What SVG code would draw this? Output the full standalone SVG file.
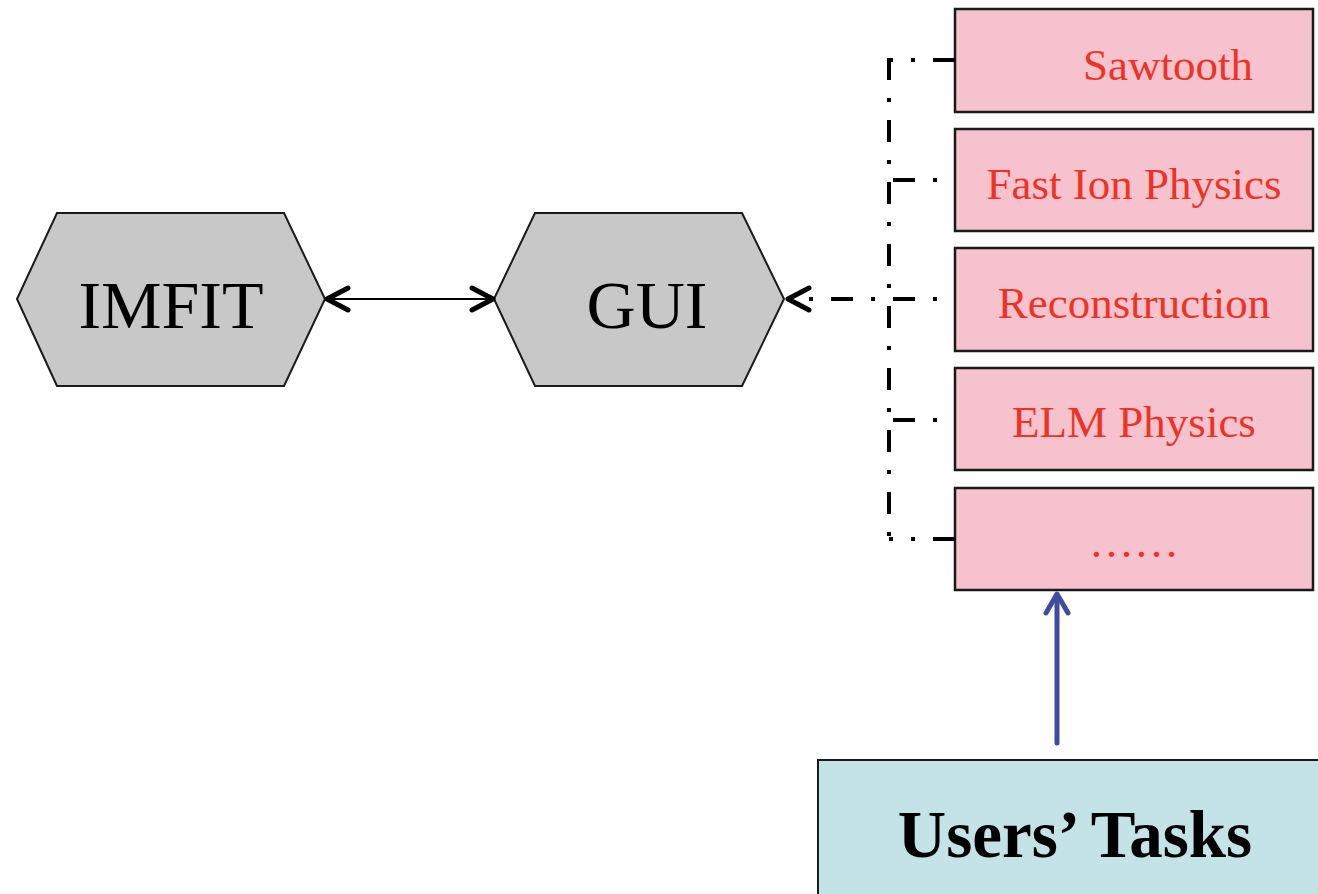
<svg xmlns="http://www.w3.org/2000/svg" width="1318" height="894" viewBox="0 0 1318 894">
  <style>
    .hex { fill: #c8c8c8; stroke: #1a1a1a; stroke-width: 2; }
    .hex-label { font-family: "Liberation Serif", "Times New Roman", serif; font-size: 68px; fill: #000; text-anchor: middle; }
    .module { fill: #f5c2cd; stroke: #1a1a1a; stroke-width: 2.5; }
    .module-label { font-family: "Liberation Serif", "Times New Roman", serif; font-size: 45px; fill: #ee3324; text-anchor: middle; }
    .task { fill: #c4e3e6; stroke: #1a1a1a; stroke-width: 2; }
    .task-label { font-family: "Liberation Serif", "Times New Roman", serif; font-size: 67px; font-weight: bold; fill: #000; text-anchor: middle; }
    .dashdot { fill: none; stroke: #000; stroke-width: 4; stroke-dasharray: 22 18 4 18; }
    .thin { fill: none; stroke: #000; stroke-width: 2; }
    .head { fill: none; stroke: #000; stroke-width: 5; stroke-linecap: round; stroke-linejoin: round; }
    .blue { fill: none; stroke: #3f4ba0; stroke-width: 5; stroke-linecap: round; stroke-linejoin: round; }
  </style>

  <!-- hexagon nodes -->
  <g id="imfit">
    <polygon class="hex" points="17,299 57,213 284,213 325,299 284,386 57,386"/>
    <text class="hex-label" x="171" y="328">IMFIT</text>
  </g>
  <g id="gui">
    <polygon class="hex" points="494,299 535,213 742,213 784,299 742,386 535,386"/>
    <text class="hex-label" x="647" y="328">GUI</text>
  </g>

  <!-- physics modules -->
  <g id="sawtooth">
    <rect class="module" x="955" y="9" width="358" height="103"/>
    <text class="module-label" x="1168" y="80">Sawtooth</text>
  </g>
  <g id="fast-ion">
    <rect class="module" x="955" y="129" width="358" height="102"/>
    <text class="module-label" x="1134" y="199">Fast Ion Physics</text>
  </g>
  <g id="reconstruction">
    <rect class="module" x="955" y="248" width="358" height="103"/>
    <text class="module-label" x="1134" y="318">Reconstruction</text>
  </g>
  <g id="elm">
    <rect class="module" x="955" y="368" width="358" height="102"/>
    <text class="module-label" x="1134" y="437">ELM Physics</text>
  </g>
  <g id="more">
    <rect class="module" x="955" y="488" width="358" height="102"/>
    <text class="module-label" x="1134" y="557">……</text>
  </g>

  <!-- user tasks -->
  <g id="users-tasks">
    <rect class="task" x="818" y="760" width="520" height="150"/>
    <text class="task-label" x="1075" y="857">Users’ Tasks</text>
  </g>

  <!-- connectors -->
  <g id="connectors">
    <!-- IMFIT <-> GUI -->
    <line class="thin" x1="327" y1="299" x2="492" y2="299"/>
    <polyline class="head" points="348,288 327,299 348,310"/>
    <polyline class="head" points="472,288 493,299 472,310"/>

    <!-- module bus -->
    <path class="dashdot" d="M889,58 L889,540"/>
    <path class="dashdot" d="M955,60 L889,60"/>
    <path class="dashdot" d="M955,180 L889,180" stroke-dashoffset="22"/>
    <path class="dashdot" d="M955,420 L889,420" stroke-dashoffset="22"/>
    <path class="dashdot" d="M955,539 L889,539"/>

    <!-- modules -> GUI -->
    <path class="dashdot" d="M955,299 L790,299" stroke-dashoffset="22"/>
    <polyline class="head" points="809,288 788,299 809,310"/>

    <!-- user tasks -> modules -->
    <line class="blue" x1="1057" y1="743" x2="1057" y2="596"/>
    <polyline class="blue" points="1046,613 1057,594 1068,613"/>
  </g>
</svg>
